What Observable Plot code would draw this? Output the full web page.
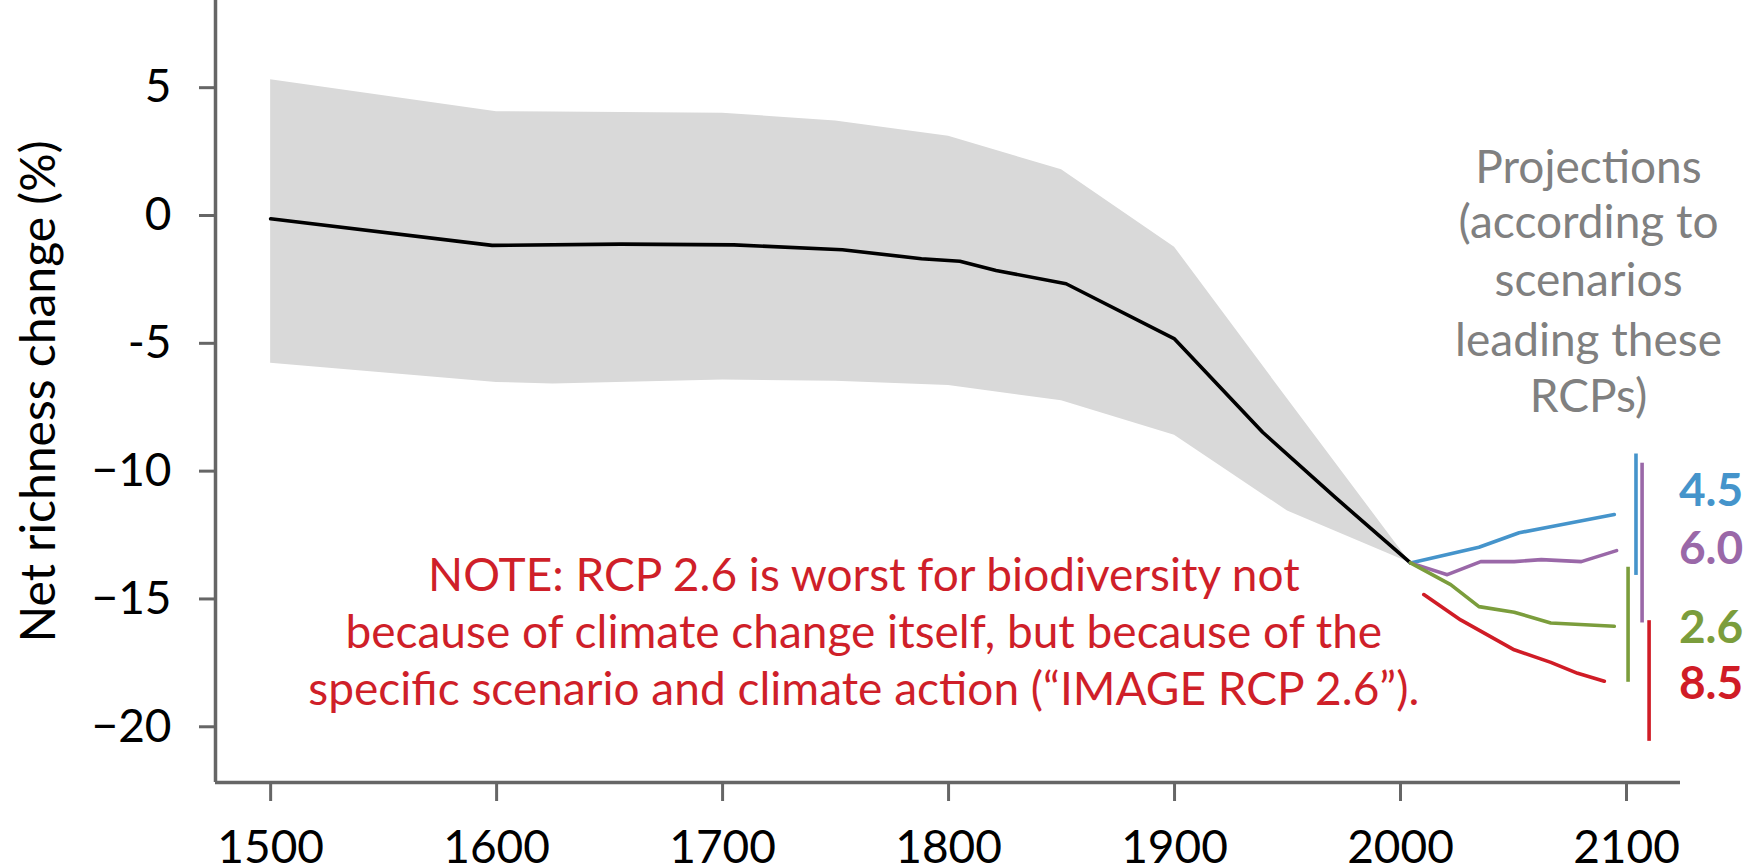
<!DOCTYPE html>
<html><head><meta charset="utf-8">
<script src="https://cdn.jsdelivr.net/npm/d3@7"></script>
<script src="https://cdn.jsdelivr.net/npm/@observablehq/plot@0.6"></script>
<style>html,body{margin:0;padding:0;background:#fff;overflow:hidden}</style>
</head><body><div id="chart"></div>
<script>
// Historical mean net richness change (%)
const histYear  = [1500, 1598, 1655, 1705, 1753, 1788, 1805, 1821, 1852, 1900, 1939, 1971, 2004.4];
const histValue = [-0.13, -1.17, -1.12, -1.15, -1.34, -1.69, -1.79, -2.15, -2.67, -4.83, -8.48, -11.02, -13.59];

// Uncertainty band
const bandYear = [1500, 1600, 1625, 1700, 1750, 1800, 1850, 1900, 1950, 2004.4];
const bandHigh = [5.31, 4.06, 4.05, 4.00, 3.70, 3.10, 1.79, -1.24, -7.18, -13.59];
const bandLow  = [-5.78, -6.53, -6.59, -6.44, -6.48, -6.65, -7.25, -8.60, -11.56, -13.59];

// Projections per RCP scenario
const scenarios = ["4.5", "6.0", "2.6", "8.5"];
const scenarioColors = ["#4594cb", "#9a68a8", "#7b9d3c", "#d01c26"];
const projYear45  = [2004.4, 2034.7, 2052.5, 2068.7, 2094.6];
const projValue45 = [-13.59, -12.98, -12.41, -12.14, -11.70];
const projYear60  = [2004.4, 2020.7, 2035.5, 2050.3, 2062.3, 2080.0, 2095.6];
const projValue60 = [-13.59, -14.05, -13.54, -13.54, -13.46, -13.54, -13.11];
const projYear26  = [2004.4, 2022.2, 2034.7, 2050.3, 2066.5, 2094.6];
const projValue26 = [-13.59, -14.44, -15.30, -15.52, -15.94, -16.07];
const projYear85  = [2010.3, 2026.6, 2050.3, 2066.5, 2078.4, 2090.2];
const projValue85 = [-14.83, -15.82, -16.99, -17.48, -17.91, -18.22];

// Ranges (vertical bars) at 2100
const rangeYear   = [2104.2, 2106.9, 2100.7, 2110.0];
const rangeTop    = [-9.33, -9.69, -13.76, -15.85];
const rangeBottom = [-14.08, -15.94, -18.26, -20.57];

// Labels
const labelYear = [2123.2, 2123.2, 2123.2, 2123.2];
const labelBase = [-11.35, -13.62, -16.71, -18.90];

const projText = ["Projections", "(according to", "scenarios", "leading these", "RCPs)"];
const projTextYear = 2083.2;
const projTextBase = [1.29, -0.87, -3.13, -5.48, -7.70];

const noteText = [
  "NOTE: RCP 2.6 is worst for biodiversity not",
  "because of climate change itself, but because of the",
  "specific scenario and climate action (\u201CIMAGE RCP 2.6\u201D)."
];
const noteYear = 1762.5;
const noteBase = [-14.67, -16.90, -19.13];

const xTicks = [1500, 1600, 1700, 1800, 1900, 2000, 2100];
const yTicks = [5, 0, -5, -10, -15, -20];
const yTickLabels = ["5", "0", "-5", "\u221210", "\u221215", "\u221220"];
const xDomain = [1475.6, 2123.9];
const yDomain = [-22.18, 8.41];
const yLabel = "Net richness change (%)";

// Build tables
const hist = histYear.map((x, i) => ({x, y: histValue[i]}));
const band = bandYear.map((x, i) => ({x, hi: bandHigh[i], lo: bandLow[i]}));
const projYears = [projYear45, projYear60, projYear26, projYear85];
const projValues = [projValue45, projValue60, projValue26, projValue85];
const proj = scenarios.flatMap((s, k) => projYears[k].map((x, i) => ({s, x, y: projValues[k][i]})));
const ranges = scenarios.map((s, i) => ({s, x: rangeYear[i], y1: rangeTop[i], y2: rangeBottom[i]}));
const labels = scenarios.map((s, i) => ({s, x: labelYear[i], y: labelBase[i]}));
const projLines = projText.map((t, i) => ({t, x: projTextYear, y: projTextBase[i]}));
const noteLines = noteText.map((t, i) => ({t, x: noteYear, y: noteBase[i]}));
const colorOf = s => scenarioColors[scenarios.indexOf(s)];

const chart = Plot.plot({
  width: 1756,
  height: 866,
  marginLeft: 215,
  marginRight: 76,
  marginTop: 0,
  marginBottom: 84,
  style: {fontFamily: "Lato, sans-serif", fontSize: "46px", background: "#fff", overflow: "visible"},
  x: {domain: xDomain},
  y: {domain: yDomain},
  marks: [
    Plot.areaY(band, {x: "x", y1: "lo", y2: "hi", fill: "#d9d9d9"}),
    Plot.line(hist, {x: "x", y: "y", stroke: "#000", strokeWidth: 3.6}),
    Plot.line(proj, {x: "x", y: "y", z: "s", stroke: d => colorOf(d.s), strokeWidth: 3.6}),
    Plot.ruleX(ranges, {x: "x", y1: "y1", y2: "y2", stroke: d => colorOf(d.s), strokeWidth: 3.6}),
    Plot.text(labels, {x: "x", y: "y", text: "s", fill: d => colorOf(d.s), textAnchor: "start", lineAnchor: "bottom", fontWeight: "bold", fontSize: 46}),
    Plot.text(projLines, {x: "x", y: "y", text: "t", fill: "#808080", textAnchor: "middle", lineAnchor: "bottom", fontSize: 46}),
    Plot.text(noteLines, {x: "x", y: "y", text: "t", fill: "#cf1f29", textAnchor: "middle", lineAnchor: "bottom", fontSize: 46}),
    Plot.ruleX([xDomain[0]], {y1: yDomain[0], y2: yDomain[1], stroke: "#666", strokeWidth: 3.5}),
    Plot.ruleY([yDomain[0]], {x1: xDomain[0], x2: xDomain[1], stroke: "#666", strokeWidth: 3.5}),
    Plot.axisX({ticks: xTicks, tickFormat: d => String(d), tickSize: 19, tickPadding: 29, stroke: "#666", strokeWidth: 3, fill: "#000", label: null}),
    Plot.axisY({ticks: yTicks, tickFormat: d => yTickLabels[yTicks.indexOf(d)], tickSize: 16, tickPadding: 28, stroke: "#666", strokeWidth: 3, fill: "#000", label: null}),
    Plot.text([yLabel], {text: d => d, frameAnchor: "left", rotate: -90, dx: -161, textAnchor: "middle", lineAnchor: "bottom", fill: "#000", fontSize: 48})
  ]
});
document.getElementById("chart").appendChild(chart);
</script>
</body></html>
